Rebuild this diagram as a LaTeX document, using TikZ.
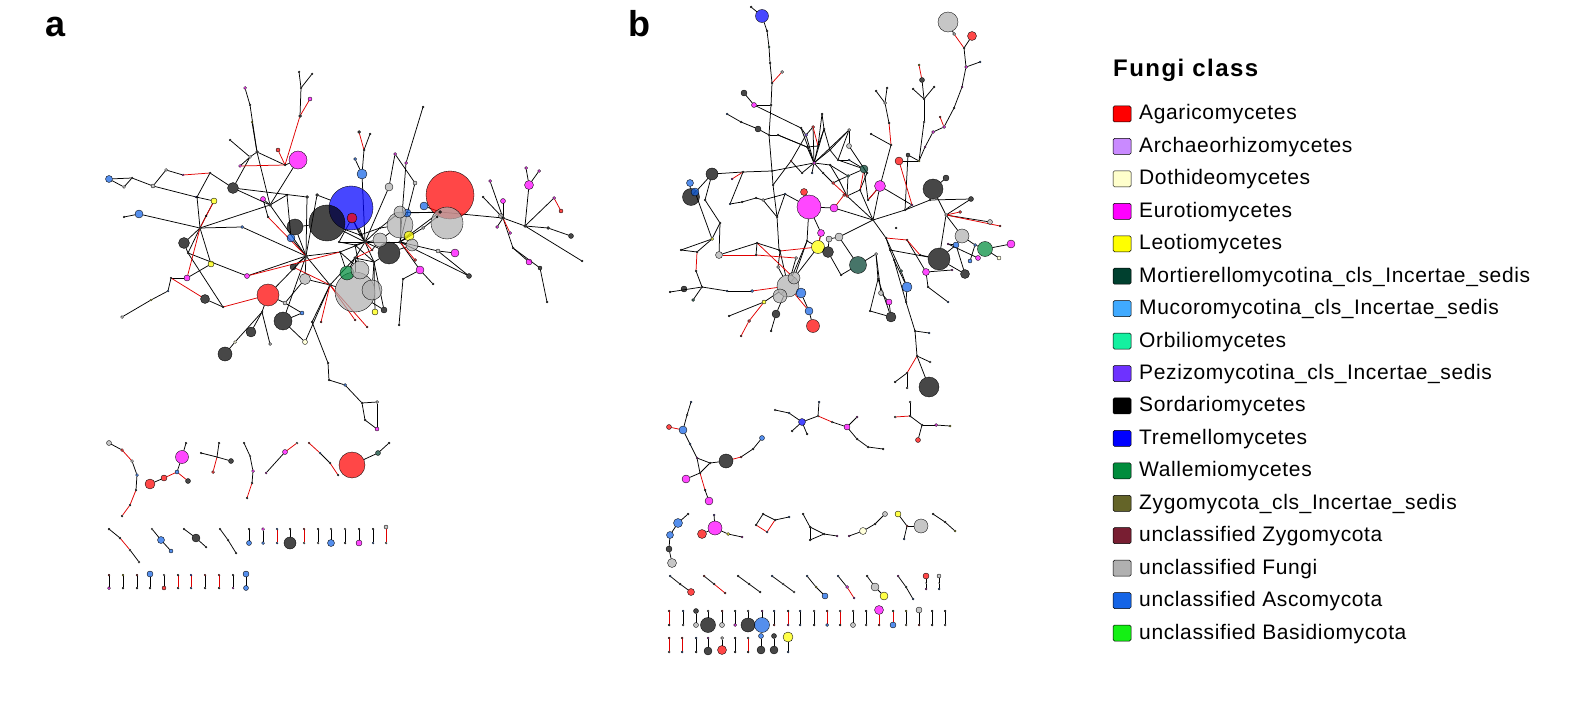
\documentclass[tikz,border=0pt]{standalone}
\usepackage{fontspec}
\setmainfont{Liberation Sans}
\usetikzlibrary{backgrounds}
\definecolor{cA}{HTML}{FF0000}
\definecolor{cR}{HTML}{C98AFF}
\definecolor{cD}{HTML}{FFFFCC}
\definecolor{cE}{HTML}{FF00FF}
\definecolor{cL}{HTML}{FFFF00}
\definecolor{cM}{HTML}{00402F}
\definecolor{cC}{HTML}{40AAFF}
\definecolor{cO}{HTML}{14F0A0}
\definecolor{cP}{HTML}{6E32FF}
\definecolor{cS}{HTML}{000000}
\definecolor{cT}{HTML}{0000FF}
\definecolor{cW}{HTML}{008C3C}
\definecolor{cZ}{HTML}{646428}
\definecolor{cX}{HTML}{781E32}
\definecolor{cF}{HTML}{B0B0B0}
\definecolor{cU}{HTML}{1464E6}
\definecolor{cB}{HTML}{14F014}
\definecolor{redge}{HTML}{E00000}
\tikzset{
  nd/.style={circle, draw=black, line width=0.35pt, fill opacity=0.72, inner sep=0pt, outer sep=0pt, minimum size=#1},
  ek/.style={draw=black, line width=0.75pt},
  er/.style={draw=redge, line width=0.75pt},
  legbox/.style={draw=black, line width=0.5pt, rounded corners=1.5pt, minimum width=18pt, minimum height=16pt, inner sep=0pt},
  legtext/.style={anchor=base west, inner sep=0pt, font=\fontsize{21}{24}\selectfont\addfontfeature{LetterSpace=3}},
  paneltag/.style={anchor=base west, inner sep=0pt, font=\bfseries\fontsize{36}{40}\selectfont},
}
\begin{document}
\begin{tikzpicture}[x=1pt,y=-1pt]
\useasboundingbox (0,0) rectangle (1570,703);

% ---------------- panel tags
\node[paneltag] (taga) at (45,37) {a};
\node[paneltag] (tagb) at (628,37) {b};

% ---------------- network a : nodes
\foreach \n/\xx/\yy/\d/\cl in {
a1/450/195/48/cA, a2/351/208/44/cT, a3/327/223/36/cS, a4/447/223/32/cF, a5/355/292/40/cF,
a6/372/290/20/cF, a7/400/225/26/cF, a8/389/253/22/cS, a9/298/160/18/cE, a10/268/295/22/cA,
a11/283/321/18/cS, a12/225/354/14/cS, a13/251/332/10/cS, a14/205/299/9/cS, a15/184/243/11/cS,
a16/233/188/11/cS, a17/295/227/16/cS, a18/347/273/14/cW, a19/362/174/10/cU, a20/139/214/8/cU,
a21/109/179/7/cU, a22/291/238/8/cU, a23/407/213/8/cU, a24/424/206/8/cU, a25/409/236/10/cL,
a26/214/201/6/cL, a27/211/264/6/cL, a28/375/312/6/cL, a29/455/253/8/cE, a30/420/270/8/cE,
a31/529/185/9/cE, a32/529/262/6/cE, a33/263/199/5/cE, a34/187/278/6/cE, a35/247/276/5/cE,
a36/310/99/4/cE, a37/503/201/5/cE, a38/352/218/10/cA, a39/278/150/4/cA, a40/561/211/4/cA,
a41/571/236/5/cS, a42/469/276/5/cS, a43/384/310/6/cS, a44/293/267/6/cS, a45/389/187/8/cF,
a46/305/279/11/cF, a47/501/216/5/cF, a48/305/342/5/cD, a49/540/268/4/cS, a50/412/245/12/cF,
a51/380/240/14/cF, a52/400/212/12/cF, a53/360/270/18/cF,
h0/365/242/3/cS, h1/306/256/3/cS, h2/330/285/3/cS, h3/400/242/3/cS, h4/440/212/3/cS,
h5/503/218/3/cS, h6/525/226/3/cS, h7/270/205/3/cS, h8/200/228/3/cS, h9/257/152/3/cS,
h10/300/116/3/cS, h11/250/105/2/cS, h12/364/150/2/cS, h13/301/88/2/cS, h14/355/258/3/cS,
h15/340/252/2/cS, h16/374/262/2/cS, h17/262/312/2/cS, h18/312/322/2/cS, h19/328/363/2/cS,
h20/345/385/3/cU, h21/362/403/2/cS, h22/285/165/2/cS, h23/153/186/4/cF, h24/124/187/3/cF,
h25/132/178/2/cS, h26/166/170/3/cF, h27/183/175/2/cE, h28/196/197/2/cT, h29/230/140/2/cS,
h30/250/157/3/cF, h31/240/166/3/cE, h32/252/122/2/cL, h33/423/107/2/cS, h34/406/163/3/cE,
h35/395/154/3/cE, h36/415/183/4/cF, h37/359/132/3/cS, h38/370/134/2/cS, h39/355/159/3/cU,
h40/299/72/2/cS, h41/312/74/2/cS, h42/245/88/3/cE, h43/490/181/3/cE, h44/526/168/3/cE,
h45/539/171/3/cE, h46/554/198/3/cE, h47/513/248/2/cS, h48/548/228/3/cS, h49/582/261/2/cS,
h50/547/302/2/cS, h51/497/227/3/cE, h52/510/233/3/cE, h53/483/197/2/cS, h54/438/251/4/cF,
h55/433/284/2/cS, h56/403/279/2/cS, h57/415/260/3/cA, h58/367/327/2/cA, h59/355/320/2/cA,
h60/321/322/2/cA, h61/399/325/2/cS, h62/270/344/3/cF, h63/223/307/2/cS, h64/235/342/3/cD,
h65/122/317/3/cF, h66/151/300/2/cL, h67/168/291/2/cU, h68/171/278/2/cS, h69/188/253/2/cS,
h70/206/216/2/cS, h71/242/227/3/cU, h72/287/195/2/cS, h73/268/217/2/cS, h74/307/197/3/cS,
h75/317/195/3/cS, h76/339/242/2/cS, h77/124/217/2/cS, h78/285/303/4/cF, h79/302/313/4/cU,
h80/377/402/3/cF, h81/365/420/2/cS, h82/377/429/4/cE, h83/329/380/2/cS, h84/423/228/3/cF,
h85/437/217/2/cS, h86/210/173/2/cS, h87/360/235/2/cS, h88/372/250/2/cA, h89/355/245/2/cS,
h90/380/228/2/cS, h91/197/197/2/cS}
{\node[nd=\d, fill=\cl] (\n) at (\xx,\yy) {};}

% ---------------- network b : nodes
\foreach \n/\xx/\yy/\d/\cl in {
b1/762/16/13/cT, b2/948/22/20/cF, b3/972/36/9/cA, b4/809/207/24/cE, b5/933/189/20/cS,
b6/691/197/17/cS, b7/712/174/12/cS, b8/690/183/7/cU, b9/695/192/8/cU, b10/939/259/22/cS,
b11/985/249/15/cW, b12/962/236/14/cF, b13/1011/244/8/cE, b14/858/265/17/cM, b15/864/169/8/cM,
b16/818/247/13/cL, b17/828/252/11/cS, b18/788/286/22/cF, b19/813/326/13/cA, b20/891/317/10/cS,
b21/929/387/20/cS, b22/907/287/10/cU, b23/926/272/7/cE, b24/880/186/11/cE, b25/834/208/8/cE,
b26/804/192/7/cA, b27/899/161/8/cA, b28/821/233/7/cE, b29/839/237/8/cF, b30/719/255/7/cF,
b31/965/274/9/cS, b32/684/289/6/cS, b33/776/314/8/cS, b34/809/311/8/cU, b35/801/293/10/cU,
b36/889/302/6/cE, b37/881/293/5/cF, b38/754/105/5/cE, b39/744/93/6/cS, b40/758/129/6/cS,
b41/780/296/14/cF, b42/946/178/6/cS, b43/849/146/5/cF, b44/971/199/5/cS, b45/990/222/5/cF,
b46/999/258/4/cD, b47/978/258/5/cE, b48/922/80/5/cS, b49/970/261/4/cU, b50/908/155/4/cS,
b51/829/239/6/cF, b52/956/245/6/cU, b53/794/278/12/cF,
g1/751/7/2/cS, g2/767/31/2/cS, g3/769/47/2/cW, g4/770/63/2/cS, g5/772/83/2/cS,
g6/782/72/3/cF, g7/771/105/2/cS, g8/769/135/2/cS, g9/772/171/2/cS, g10/727/114/2/cU,
g11/741/122/2/cS, g12/778/135/2/cS, g13/954/34/3/cF, g14/964/48/2/cS, g15/966/67/3/cE,
g16/980/62/2/cU, g17/962/87/2/cE, g18/954/108/2/cS, g19/944/127/3/cE, g20/940/117/2/cA,
g21/933/132/3/cE, g22/925/147/2/cE, g23/919/161/2/cL, g24/919/65/2/cL, g26/924/99/2/cS,
g27/934/87/2/cS, g28/913/89/2/cS, g29/924/122/2/cF, g30/887/88/2/cS, g31/876/91/2/cS,
g32/885/103/3/cF, g33/889/123/2/cS, g34/891/145/2/cS, g35/871/134/2/cS, g36/867/173/2/cS,
g37/844/195/3/cA,
m0/814/163/3/cE, m1/822/114/2/cS, m2/813/127/3/cA, m3/824/129/2/cS, m4/849/130/3/cF,
m5/801/128/2/cS, m6/807/147/2/cS, m7/812/173/2/cU, m8/823/173/2/cS, m9/833/183/3/cA,
m10/839/180/2/cS, m11/847/196/3/cA, m12/849/160/2/cU, m13/848/176/3/cM, m14/802/173/2/cS,
m15/830/150/2/cS, m16/838/160/2/cS, m17/818/146/2/cS, m18/806/135/3/cP, m19/830/165/2/cS,
g40/743/172/2/cS, g41/732/179/2/cE, g42/756/198/2/cS, g43/763/200/3/cF, g44/785/194/2/cU,
g45/791/161/2/cA, g47/705/200/2/cS, g48/720/223/2/cS, g49/712/239/3/cL, g50/697/252/2/cS,
g51/696/271/2/cS, g52/702/287/2/cS, g53/670/292/2/cS, g54/693/300/3/cM, g55/727/291/2/cU,
g56/730/204/2/cU, g57/742/202/2/cS, g58/681/250/2/cS, g59/757/243/2/cS, g60/780/251/2/cS,
g61/796/258/3/cF, g62/807/241/2/cS, g63/756/255/2/cS, g64/778/267/3/cF, g65/752/291/3/cU,
g66/764/302/4/cL, g67/749/321/3/cA, g68/741/336/2/cA, g69/729/316/2/cS, g70/771/331/2/cS,
g71/777/217/2/cS, g72/779/250/2/cS, g73/773/185/2/cS,
g80/876/254/3/cF, g81/878/279/2/cS, g82/870/311/2/cS, g83/894/260/2/cS, g84/901/271/3/cM,
g85/906/302/2/cS, g86/915/331/2/cS, g87/929/333/2/cU, g88/917/356/2/cS, g89/907/373/2/cS,
g90/895/382/2/cS, g91/907/388/2/cF, g92/930/362/2/cF, g93/928/287/2/cS, g94/948/302/2/cU,
g95/841/275/2/cS, g96/873/220/2/cS, g97/946/215/3/cF, g98/886/238/2/cS, g99/907/240/2/cA,
g100/896/228/2/cS, g101/860/190/2/cS, g102/868/200/2/cS, g103/905/210/2/cS, g104/930/200/2/cS,
g105/960/212/3/cA, g106/1000/226/2/cA, g107/975/245/3/cU, g108/948/244/2/cE, g109/952/270/2/cE,
g110/890/250/2/cS, g111/912/205/2/cE, g112/920/255/2/cS}
{\node[nd=\d, fill=\cl] (\n) at (\xx,\yy) {};}

% ---------------- small components (a)
\foreach \n/\xx/\yy/\d/\cl in {
s1/109/443/5/cF, s2/122/450/3/cA, s3/132/461/3/cF, s4/137/475/3/cU, s5/136/490/2/cS,
s6/130/505/2/cS, s7/122/516/2/cS, s8/150/484/10/cA, s9/164/478/6/cA, s10/177/472/4/cU,
s11/182/457/13/cE, s12/186/443/2/cS, s13/188/481/5/cS, s14/201/453/2/cS, s15/231/461/5/cS,
s16/219/443/2/cS, s17/213/472/3/cA, s18/217/457/1.5/cS, s19/244/443/2/cS, s20/250/456/2/cF,
s21/253/471/3/cE, s22/252/483/2/cS, s23/247/498/2/cS, s24/266/473/2/cE, s25/285/452/5/cE,
s26/297/443/2/cF, s27/309/443/2/cA, s28/320/453/2/cU, s29/330/463/2/cS, s30/338/475/2/cS,
s31/352/465/26/cA, s32/378/453/5/cM, s33/389/443/2/cS,
s34/109/529/2/cS, s35/120/538/2/cS, s36/130/550/2/cF, s37/139/562/2/cF,
s38/152/529/2/cF, s39/161/540/7/cU, s40/171/551/4/cU,
s41/184/529/2/cS, s42/196/538/8/cS, s43/206/547/2/cS,
s44/220/529/2/cS, s45/228/540/2/cS, s46/236/553/2/cS}
{\node[nd=\d, fill=\cl] (\n) at (\xx,\yy) {};}

% ---------------- small components (b)
\foreach \n/\xx/\yy/\d/\cl in {
t1/691/402/2/cU, t2/687/415/2/cF, t3/683/430/8/cU, t4/669/427/5/cA, t5/690/444/2/cU,
t6/697/458/2/cE, t7/710/463/2/cS, t8/700/473/2/cS, t9/726/461/14/cS, t10/741/457/2/cA,
t11/753/449/2/cS, t12/762/438/5/cU, t13/686/479/8/cE, t14/705/490/2/cS, t15/709/501/8/cE,
t16/775/410/2/cF, t17/789/413/2/cU, t18/802/422/7/cT, t19/792/431/2/cS, t20/807/434/2/cS,
t21/819/402/2/cU, t22/818/416/2/cF, t23/832/422/2/cF, t24/847/427/6/cE, t25/857/417/2/cE,
t26/857/439/2/cS, t27/868/447/2/cS, t28/883/449/2/cS,
t29/910/402/2/cF, t30/910/416/2/cS, t31/895/417/2/cF, t32/922/425/2/cS, t33/936/425/3/cE,
t34/950/426/2/cL, t35/918/440/5/cA,
t36/688/514/2/cS, t37/678/523/9/cU, t38/670/535/7/cU, t39/669/549/6/cS, t40/672/563/9/cF,
t41/702/534/9/cA, t42/715/528/14/cE, t43/714/515/2/cP, t44/728/534/3/cL, t45/742/537/2/cE,
t46/763/514/2/cS, t47/775/520/2/cS, t48/767/532/2/cU, t49/756/525/2/cS, t50/789/517/2/cU,
t51/803/514/2/cS, t52/810/527/2/cS, t53/810/540/2/cS, t54/824/534/2/cS, t55/837/536/2/cE,
t56/849/536/2/cE, t57/863/531/7/cD, t58/875/524/2/cS, t59/885/514/5/cF,
t60/898/514/6/cL, t61/907/526/2/cA, t62/904/539/2/cU, t63/921/526/14/cF,
t64/933/514/2/cS, t65/945/522/2/cS, t66/955/531/2/cL}
{\node[nd=\d, fill=\cl] (\n) at (\xx,\yy) {};}

% diagonal pairs (b) with middle node
\foreach \i/\xa/\ya/\da/\ca/\xm/\ym/\dm/\cm/\xb/\yb/\db/\cb in {
1/670/576/2/cU/680/584/2/cS/691/592/7/cA,
2/704/576/2/cA/714/584/2/cS/725/593/2/cA,
3/738/576/2/cS/749/584/2/cS/760/592/2/cS,
4/772/576/2/cU/783/584/2/cF/794/592/2/cF,
5/807/576/2/cU/816/587/2/cL/825/596/6/cU,
6/838/576/2/cU/847/587/3/cE/854/598/2/cE,
7/867/576/2/cS/875/587/8/cF/884/596/8/cL,
8/898/576/2/cE/906/587/2/cM/913/599/2/cU,
9/926/576/6/cA/926/583/1/cS/926/589/2/cE,
10/939/576/4/cF/939/583/1/cS/939/589/2/cU}
{\node[nd=\da, fill=\ca] (da\i) at (\xa,\ya) {};
 \node[nd=\dm, fill=\cm] (dm\i) at (\xm,\ym) {};
 \node[nd=\db, fill=\cb] (db\i) at (\xb,\yb) {};}

% vertical pairs, rows
\foreach \i/\xx/\ya/\da/\ca/\yb/\db/\cb in {
1/249/529/2/cS/543/5/cU, 2/263/529/3/cE/543/3/cU, 3/277/529/2/cU/543/2/cU,
4/290/529/2/cS/543/12/cS, 5/304/529/2/cA/543/2/cF, 6/318/529/2/cS/543/2/cF,
7/331/529/2/cF/543/7/cU, 8/345/529/2/cF/543/2/cS, 9/359/529/2/cS/543/6/cE,
10/373/529/2/cS/543/2/cU, 11/386/527/4/cF/543/2/cF,
12/109/575/2/cA/588/3/cE, 13/123/575/2/cL/588/2/cS, 14/137/575/2/cA/588/2/cS,
15/150/574/6/cU/588/2/cS, 16/164/575/2/cF/588/4/cA, 17/178/575/2/cS/588/2/cS,
18/191/575/2/cT/588/2/cU, 19/205/575/2/cA/588/2/cS, 20/219/575/2/cA/588/2/cS,
21/233/575/2/cS/588/2/cE, 22/246/574/6/cU/588/5/cU,
23/669/611/2/cA/625/2/cS, 24/683/611/2/cU/625/2/cF, 25/696/611/5/cS/625/5/cF,
26/708/611/2/cF/625/15/cS, 27/722/611/2/cA/625/5/cF, 28/735/611/2/cM/625/3/cE,
29/748/611/2/cF/625/14/cS, 30/762/611/2/cE/625/15/cU, 31/774/611/2/cU/625/2/cA,
32/788/611/2/cS/625/2/cE, 33/800/611/2/cU/625/2/cU, 34/814/611/2/cF/625/2/cS,
35/827/611/2/cA/625/3/cU, 36/840/611/2/cF/625/2/cS, 37/853/611/2/cF/625/5/cF,
38/866/611/2/cS/625/2/cF, 39/879/610/9/cE/625/2/cA, 40/893/611/2/cW/625/6/cU,
41/906/611/2/cL/625/2/cD, 42/919/610/6/cF/625/2/cA, 43/932/611/2/cS/625/2/cS,
44/945/611/2/cS/625/2/cF,
45/669/638/2/cA/652/2/cF, 46/682/638/2/cA/652/2/cU, 47/696/638/2/cU/652/2/cS,
48/708/638/2/cE/651/8/cS, 49/722/638/3/cF/650/9/cA, 50/735/638/2/cS/652/2/cS,
51/748/638/2/cF/652/2/cS, 52/761/636/5/cU/650/8/cS, 53/774/636/5/cS/650/8/cS,
54/788/637/10/cL/652/2/cU}
{\node[nd=\da, fill=\ca] (vt\i) at (\xx,\ya) {};
 \node[nd=\db, fill=\cb] (vb\i) at (\xx,\yb) {};}

% ---------------- edges
\begin{pgfonlayer}{background}
% network a black edges
\foreach \p/\q in {
h0/h87, h0/h89, h0/h90, h0/a51, h0/a2, h0/a3, h0/h14, h0/h15, h0/h16, h0/h3, h0/h76,
h0/a8, h0/a19, h0/a45, h14/a53, h14/a18, h14/a5, h16/a6, h16/a43, h16/a28, h15/h1, h15/a18,
h1/a17, h1/a22, h1/a44, h1/a46, h1/h7, h1/h71, h1/h2, h1/a10, h1/h74, h1/h75,
h2/a5, h2/a46, h2/h18, h14/h2, a46/h78, h78/a10, h78/h79, h79/a11, h18/h19, h19/h83,
h83/h20, h20/h21, h21/h80, h21/h81, h81/h82, h80/h82, h17/a10, h17/a13, h17/h64, h64/a12,
h17/h62, h63/a14, a11/a48, h7/a33, h7/a9, h7/h9, h7/h72, h7/a16, h7/h8, h9/h11, h11/h42,
h9/h30, h30/h29, h30/h31, h9/h32, h9/h22, h22/a9, h10/h13, h13/h40, h13/h41,
h8/a15, h8/a20, h8/a27, h8/h70, h8/h69, h8/h91, h91/h86, h23/h25, h25/h24, h24/a21,
h23/h26, h26/h27, a20/h77, a27/a34, a34/h68, h68/h67, h67/h66, h66/h65, h69/h63,
a16/h86, a26/h28, h28/h23, a19/h39, a19/h12, h12/h38,
h3/a7, h3/a25, h3/a50, h3/a52, h3/h4, h3/h54, h3/a30, h3/a42, h3/h84, h3/h36, h36/h35,
h35/a45, h3/h34, h34/h33, h4/a1, h4/a4, h4/a24, h4/a23, h4/h5, h4/h85, h4/a52, h5/a47,
h5/a37, h5/h53, h5/h43, h5/h6, h5/h51, h5/h47, h6/a31, a31/h44, a31/h45, h6/h46, h6/h48,
h48/a41, h6/h49, h47/a32, h47/a49, a49/h50, h54/a29, a30/h55, a30/h56, a5/a43, h56/h61,
h1/a35, a35/h69, h71/h8, h73/a33, h76/a38, h0/a38, h89/a53, h90/a7, a17/a3, h75/a2,
h74/a16, h72/a22, a8/a50, a51/a7, h84/h85, h54/a42, h1/a11, h2/a48,
a15/h69, a21/h25, h70/a26, a16/h30, h87/h90, h89/h16, h87/a38, h90/a52, h16/a8,
h76/h89, h88/a51, h15/a53, h87/a3, h14/h16}
{\draw[ek] (\p) -- (\q);}
% network a red edges
\foreach \p/\q in {
h22/h10, h22/a39, h10/a36, h12/h37, h46/a40, h63/a10, h1/h73, h8/a26, h2/h58, h2/h59,
h2/h60, h3/h57, h0/h88, h5/h52, h91/h28, h27/h86, h15/a35, h14/h88, a44/h2, h8/a34,
h31/h22, a14/h68}
{\draw[er] (\p) -- (\q);}

% network b black edges
\foreach \p/\q in {
b1/g1, b1/g2, g2/g3, g3/g4, g4/g5, g5/g7, g7/g8, g8/g9, g9/g73, g73/g71, g71/g72, g72/g60,
g60/g64, g8/g12, g7/b38, b38/b39, b40/g11, g11/g10, b40/g8, b38/m5,
m0/m2, m0/m3, m0/m5, m0/m6, m0/m7, m0/m8, m0/m14, m0/m15, m0/m17, m0/m18, m0/m19,
m1/m3, m3/m15, m4/m16, m15/m16, m16/m12, m10/m13, m8/m9, m9/m10, m10/m11, m11/m13,
m15/m4, m17/m1, m18/m5, m19/m10, m19/m13, m16/b15, m13/b15, m0/g9, m14/g45, m6/g12,
m0/m4, m17/m6, m2/m18, m3/m17, b15/m12, b15/g36, g102/b24, b4/b26, b4/b25, b4/g44,
b25/g96, g96/b24, g96/g101, g101/g36, g96/b29, g96/g98, g98/g110, g96/g103, g96/m11,
b24/g34, g33/g32, g32/g30, g32/g31, g34/g35, b5/g104, b5/b42, b5/g97, g104/g103,
g103/b50, b50/g23, g23/b27, g23/g22, g22/g21, g21/g19, g19/g18, g18/g17, g17/g15,
g15/g16, g15/g14, g13/b2, g14/b3, g23/g29, g29/g26, g26/g27, g26/g28, g26/b48,
g97/b12, g97/b44, b12/g107, g107/b11, b11/b13, b11/b46, b12/b52, b52/b31, b52/g108,
g108/b47, g107/b49, g97/b45, b10/g97, b10/b52, b10/g112, b10/b31, b23/g109,
b6/b7, b6/b8, b6/b9, b7/g47, b7/g40, g40/g56, g56/g57, g57/g42, g42/g43, g43/g44,
g47/g48, g48/g49, g49/g50, g51/g52, g52/g53, g52/g54, g52/g55, g55/g65, g49/g58,
g43/g71, b18/b53, b18/b41, b18/b35, b18/g61, b18/g64, b18/g66, b18/b33, b34/b19,
g66/g69, b33/g70, b18/g62, g62/b16, b16/b17, b17/b51, b51/b29, g59/g63, b18/g60,
b29/b14, b14/g95, b14/g80, g95/b17, g83/g85, g85/g86, g86/g87, g86/g88, g89/g90,
g89/g91, g88/g92, g88/b21, g83/b22, b22/g84, g84/g98, g80/g81, g81/g82, g80/b37,
b37/b36, b36/b20, g81/b20, b23/g93, g93/g94, b10/g110, g110/g83, g9/g40, g111/b24,
g111/g103, b4/b28, b16/b28, b15/g102, g48/b30, b30/g59, g59/g72, g12/m6, b43/m4,
g36/b43, g101/m11, b53/b16, g49/b9, g50/g58, b53/g62, g45/m18, g71/g44, b4/g62,
g73/g45, b20/g82, b22/g85, g99/b23, g104/b44, b35/b34}
{\draw[ek] (\p) -- (\q);}
% network b red edges
\foreach \p/\q in {
g5/g6, g14/g13, g19/g20, b48/g24, g97/g106, g112/g99, g99/g98, g33/g34, b25/g37,
g37/m11, b28/b16, b15/g101, g50/g51, b18/g65, b18/b34, g66/g67, g67/g68, g88/g89,
b30/g63, g63/g61, g40/g41, m2/m17, m9/m11, g105/g97, b27/g111, b24/g102, g60/b16,
b53/g59}
{\draw[er] (\p) -- (\q);}

% small components a
\foreach \p/\q in {s1/s2, s3/s4, s4/s5, s8/s9, s10/s11, s11/s12, s14/s18, s18/s15, s16/s18,
s19/s20, s20/s21, s21/s22, s24/s25, s28/s29, s31/s32, s32/s33,
s34/s35, s36/s37, s38/s39, s39/s40, s41/s42, s42/s43, s44/s45, s45/s46}
{\draw[ek] (\p) -- (\q);}
\foreach \p/\q in {s2/s3, s5/s6, s6/s7, s9/s10, s10/s13, s18/s17, s22/s23, s25/s26,
s27/s28, s29/s30, s35/s36}
{\draw[er] (\p) -- (\q);}
% small components b
\foreach \p/\q in {t1/t2, t2/t3, t3/t5, t5/t6, t6/t7, t6/t8, t7/t8, t7/t9, t10/t11, t11/t12,
t8/t13, t14/t15, t16/t17, t17/t18, t18/t19, t18/t20, t18/t22, t21/t22, t23/t24, t24/t25,
t24/t26, t26/t27, t27/t28, t29/t30, t30/t32, t32/t33, t33/t34, t32/t35,
t36/t37, t37/t38, t38/t39, t39/t40, t41/t42, t42/t43, t42/t44, t44/t45,
t46/t47, t49/t46, t47/t50, t51/t52, t52/t53, t53/t54, t52/t54, t54/t55,
t56/t57, t57/t58, t58/t59, t60/t61, t61/t62, t61/t63, t64/t65, t65/t66}
{\draw[ek] (\p) -- (\q);}
\foreach \p/\q in {t3/t4, t9/t10, t8/t14, t22/t23, t30/t31, t47/t48, t48/t49}
{\draw[er] (\p) -- (\q);}
\foreach \i in {1,3,4,5,7,8,9,10} {\draw[ek] (da\i) -- (dm\i); \draw[ek] (dm\i) -- (db\i);}
\foreach \i in {2,6} {\draw[ek] (da\i) -- (dm\i); \draw[er] (dm\i) -- (db\i);}
\foreach \i in {1,2,4,6,7,8,9,10,12,13,14,15,16,19,21,22,24,25,26,27,28,29,30,31,33,34,37,38,41,42,43,44,47,48,49,50,52,53,54}
{\draw[ek] (vt\i) -- (vb\i);}
\foreach \i in {3,5,11,17,18,20,23,32,35,36,39,40,45,46,51}
{\draw[er] (vt\i) -- (vb\i);}
\end{pgfonlayer}

% ---------------- legend
\node[anchor=base west, inner sep=0pt, font=\bfseries\fontsize{24}{28}\selectfont\addfontfeature{LetterSpace=6}] (legtitle) at (1113,77) {Fungi class};
\foreach \i/\cl/\t in {
0/cA/Agaricomycetes, 1/cR/Archaeorhizomycetes, 2/cD/Dothideomycetes, 3/cE/Eurotiomycetes,
4/cL/Leotiomycetes, 5/cM/Mortierellomycotina\_cls\_Incertae\_sedis,
6/cC/Mucoromycotina\_cls\_Incertae\_sedis, 7/cO/Orbiliomycetes,
8/cP/Pezizomycotina\_cls\_Incertae\_sedis, 9/cS/Sordariomycetes, 10/cT/Tremellomycetes,
11/cW/Wallemiomycetes, 12/cZ/Zygomycota\_cls\_Incertae\_sedis, 13/cX/unclassified Zygomycota,
14/cF/unclassified Fungi, 15/cU/unclassified Ascomycota, 16/cB/unclassified Basidiomycota}
{\node[legbox, fill=\cl] (lb\i) at (1122,{114+32.44*\i}) {};
 \node[legtext] (lt\i) at (1139,{120+32.44*\i}) {\t};}
\end{tikzpicture}
\end{document}
